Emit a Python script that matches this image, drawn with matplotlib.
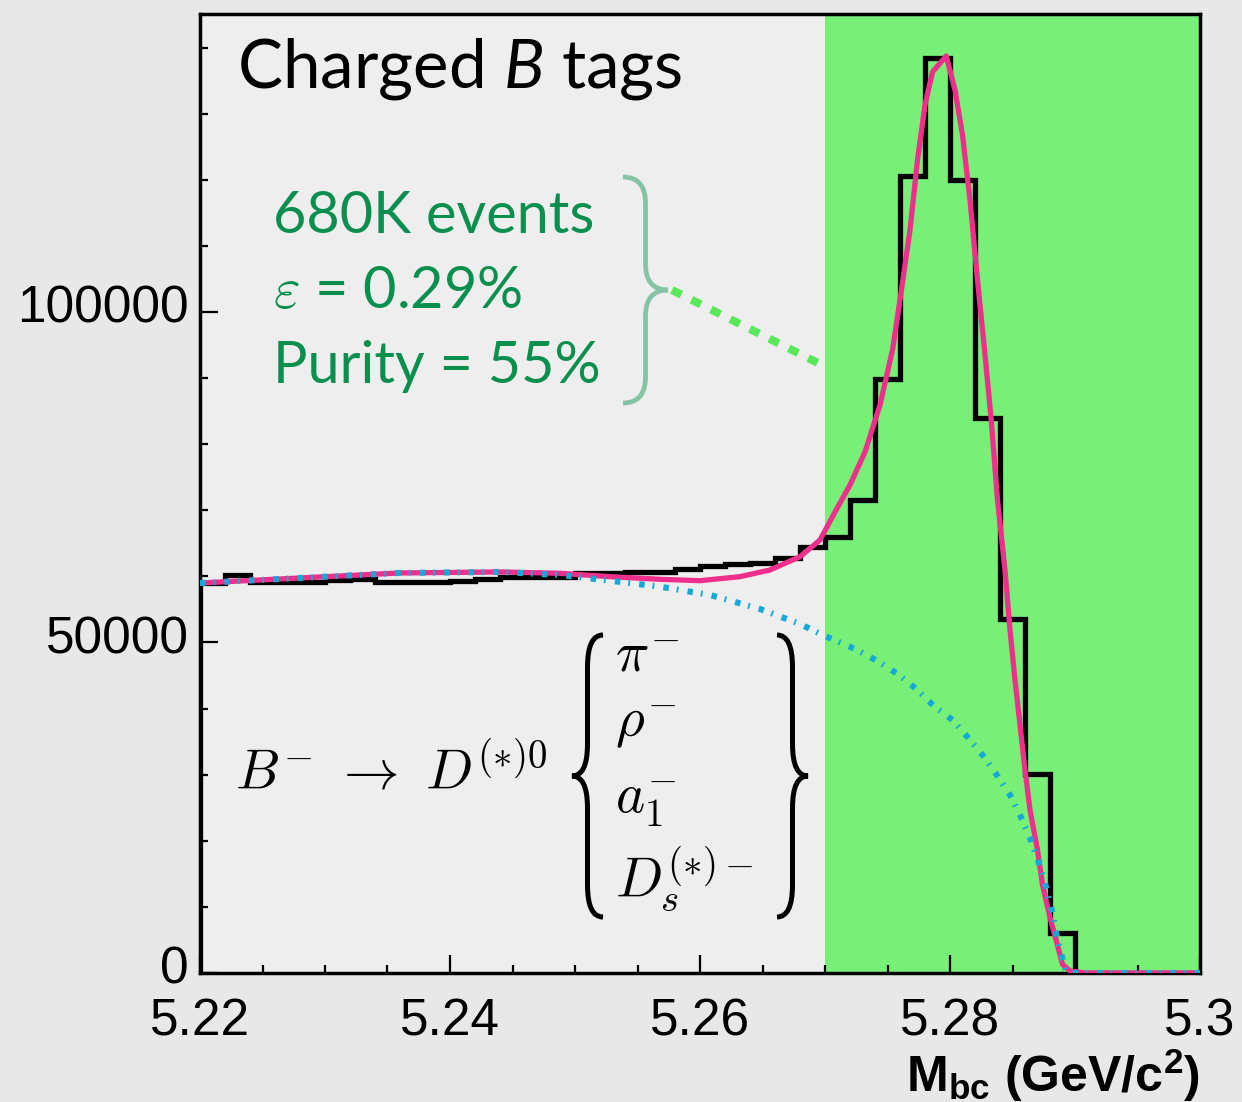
import matplotlib
matplotlib.use("Agg")
import matplotlib.pyplot as plt
import matplotlib.transforms as mtransforms
import numpy as np
from matplotlib.path import Path
from matplotlib.patches import PathPatch
from matplotlib.lines import Line2D
from matplotlib.ticker import MultipleLocator, FixedLocator, FixedFormatter

plt.rcParams['font.family'] = ['Liberation Sans', 'DejaVu Sans']
plt.rcParams['mathtext.fontset'] = 'custom'
plt.rcParams['mathtext.rm'] = 'Liberation Sans'
plt.rcParams['mathtext.bf'] = 'Liberation Sans:bold'
plt.rcParams['mathtext.it'] = 'Lato:italic'

# histogram of M_bc, 40 bins of 2 MeV
edges = np.round(np.linspace(5.22, 5.30, 41), 3)
counts = [59000, 60200, 59150, 59100, 59100, 59500, 59600, 59150, 59150, 59150,
          59300, 59600, 59900, 59900, 59900, 60450, 60550, 60650, 60650, 61050,
          61550, 61900, 62050, 62800, 64400, 66000, 71500, 89900, 120600, 138400,
          120000, 84000, 53600, 30100, 6050, 0, 0, 0, 0, 0]

# total fit
fit_x = [5.2200, 5.2280, 5.2360, 5.2440, 5.2488, 5.2528, 5.2568, 5.2600, 5.2632,
         5.2656, 5.2680, 5.2696, 5.2708, 5.2720, 5.2732, 5.2744, 5.2754, 5.2760,
         5.2768, 5.2774, 5.2780, 5.2786, 5.2797, 5.2804, 5.2810, 5.2816, 5.2822,
         5.2828, 5.2833, 5.2838, 5.2844, 5.2848, 5.2852, 5.2856, 5.2860, 5.2864,
         5.2870, 5.2874, 5.2880, 5.2886, 5.2890, 5.2896, 5.2908, 5.3000]
fit_y = [59000, 59760, 60520, 60670, 60470, 59960, 59560, 59350, 59960,
         60970, 62980, 65510, 69740, 73830, 78820, 85930, 94250, 101820,
         112410, 123000, 131320, 136310, 138730, 133590, 126780, 116950, 104840,
         93500, 83660, 71560, 60970, 51890, 44330, 37520, 30710, 24660,
         18610, 13300, 8400, 4200, 1300, 300, 0, 0]

# background component (ARGUS-like)
bkg_x = [5.2200, 5.2280, 5.2360, 5.2440, 5.2488, 5.2528, 5.2568, 5.2608, 5.2648,
         5.2680, 5.2698, 5.2724, 5.2742, 5.2758, 5.2772, 5.2788, 5.2802, 5.2814,
         5.2826, 5.2838, 5.2848, 5.2856, 5.2864, 5.2870, 5.2876, 5.2882, 5.2886,
         5.2892, 5.2894, 5.3000]
bkg_y = [59000, 59760, 60520, 60670, 60210, 59350, 58440, 57190, 55070,
         52800, 51140, 49020, 47200, 45240, 43120, 40240, 38280, 35700,
         32980, 29800, 26930, 23900, 20420, 17250, 13620, 9080, 4990,
         760, 0, 0]

signal_lo, signal_hi = 5.27, 5.30

W, H = 1242, 1102
fig = plt.figure(figsize=(W / 100, H / 100), dpi=100)
fig.patch.set_facecolor('#e8e8e8')
ax = fig.add_axes([200 / W, 129 / H, 1000 / W, 959 / H])
ax.set_facecolor('#eeeeee')

ax.axvspan(signal_lo, signal_hi, color='#78f078', lw=0, zorder=0)
ax.stairs(counts, edges, color='black', lw=3.8, zorder=2)
ax.plot(fit_x, fit_y, color='#ee2f8c', lw=3.8, zorder=3, solid_joinstyle='round')
ax.plot(bkg_x, bkg_y, color='#17a9d6', lw=4.4, zorder=4,
        linestyle=(0, (0.9, 1.3, 0.3, 1.5)))

ax.set_xlim(5.22, 5.30)
ax.set_ylim(0, 145080)
ax.xaxis.set_major_locator(FixedLocator([5.22, 5.24, 5.26, 5.28, 5.30]))
ax.xaxis.set_major_formatter(FixedFormatter(['5.22', '5.24', '5.26', '5.28', '5.3']))
ax.xaxis.set_minor_locator(MultipleLocator(0.005))
ax.yaxis.set_major_locator(FixedLocator([0, 50000, 100000]))
ax.yaxis.set_major_formatter(FixedFormatter(['0', '50000', '100000']))
ax.yaxis.set_minor_locator(MultipleLocator(10000))
for s in ax.spines.values():
    s.set_linewidth(2.5)
ax.tick_params(which='both', direction='in', top=False, right=False, width=1.6,
               labelsize=37)
ax.tick_params(which='major', length=13)
ax.tick_params(which='minor', length=6)
ax.tick_params(axis='x', pad=18)
ax.tick_params(axis='y', pad=8)

# y labels sit a little above their ticks in the reference
shift_up = mtransforms.ScaledTranslation(0, 8 / 100, fig.dpi_scale_trans)
for lab in ax.get_yticklabels():
    lab.set_transform(lab.get_transform() + shift_up)


def fx(px):
    return px / W


def fy(py):
    return 1 - py / H


def brace(x_end, x_tip, y_top, y_bot, y_tip, r):
    xm = (x_end + x_tip) / 2
    pts = [(x_end, y_top), (xm, y_top), (xm, y_top + r),
           (xm, y_tip - r), (xm, y_tip), (x_tip, y_tip),
           (xm, y_tip), (xm, y_tip + r),
           (xm, y_bot - r), (xm, y_bot), (x_end, y_bot)]
    codes = [Path.MOVETO, Path.CURVE3, Path.CURVE3, Path.LINETO, Path.CURVE3,
             Path.CURVE3, Path.CURVE3, Path.CURVE3, Path.LINETO, Path.CURVE3,
             Path.CURVE3]
    return Path([(fx(x), fy(y)) for x, y in pts], codes)


fig.text(fx(1200), fy(1092), r'$\mathbf{M_{bc}}$ (GeV/c$^{\mathbf{2}}$)',
         fontsize=36, fontweight='bold', ha='right', va='baseline')

fig.text(fx(237), fy(87), r'Charged $\mathit{B}$ tags', family='Lato',
         fontsize=48.5, ha='left', va='baseline')

green = '#0b8f4e'
fig.text(fx(273), fy(233), '680K events', family='Lato', fontsize=41.5,
         color=green, va='baseline')
fig.text(fx(273), fy(308), r'$\varepsilon$ = 0.29%', family='Lato', fontsize=41.5,
         color=green, va='baseline', math_fontfamily='cm')
fig.text(fx(273), fy(383), 'Purity = 55%', family='Lato', fontsize=41.5,
         color=green, va='baseline')

fig.add_artist(PathPatch(brace(623, 668, 177, 403, 290, 26), fill=False,
                         ec='#84c4a4', lw=3.4, transform=fig.transFigure))
fig.add_artist(Line2D([fx(672), fx(820)], [fy(290), fy(364)], color='#5ae85a',
                      lw=5.8, linestyle=(0, (1.3, 1.4)),
                      transform=fig.transFigure))

fig.text(fx(235), fy(790), r'$B^{-}\ \rightarrow\ D^{(*)0}$', fontsize=40,
         math_fontfamily='cm', va='baseline')
items = [r'$\pi^{-}$', r'$\rho^{-}$', r'$a_{1}^{-}$', r'$D_{s}^{(*)-}$']
item_y = [672, 737, 813, 897]
for lab, yy in zip(items, item_y):
    fig.text(fx(615), fy(yy), lab, fontsize=40, math_fontfamily='cm',
             va='baseline')
fig.add_artist(PathPatch(brace(603, 572, 635, 917, 776, 32), fill=False,
                         ec='black', lw=3.6, transform=fig.transFigure))
fig.add_artist(PathPatch(brace(777, 808, 635, 917, 776, 32), fill=False,
                         ec='black', lw=3.6, transform=fig.transFigure))

fig.savefig('out.png', dpi=100, facecolor=fig.get_facecolor())
